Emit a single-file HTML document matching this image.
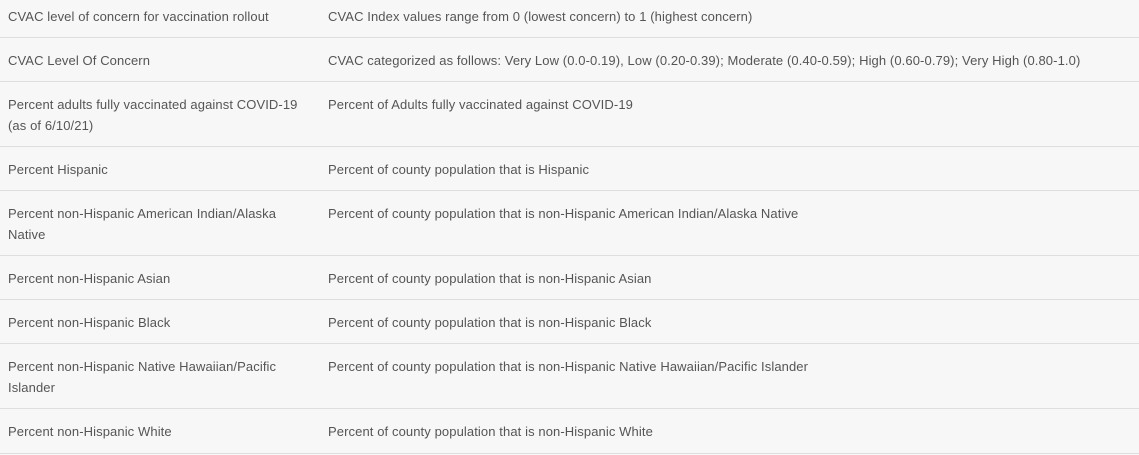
<!DOCTYPE html>
<html><head><meta charset="utf-8">
<style>
html,body{margin:0;padding:0;width:1139px;height:455px;overflow:hidden;background:#f7f7f7;}
body{font-family:"Liberation Sans",sans-serif;font-size:13px;color:#555;letter-spacing:0.1px;}
.row{position:absolute;left:0;width:1139px;border-bottom:1px solid #dedede;box-sizing:border-box;}
.c1{position:absolute;left:8px;top:12px;line-height:21px;width:310px;}
.c2{position:absolute;left:328px;top:12px;line-height:21px;white-space:nowrap;}
</style></head>
<body>
<div id="t"></div>
<script>
const names=["CVAC level of concern for vaccination rollout","CVAC Level Of Concern","Percent adults fully vaccinated against COVID-19<br>(as of 6/10/21)","Percent Hispanic","Percent non-Hispanic American Indian/Alaska<br>Native","Percent non-Hispanic Asian","Percent non-Hispanic Black","Percent non-Hispanic Native Hawaiian/Pacific<br>Islander","Percent non-Hispanic White"];
const descs=["CVAC Index values range from 0 (lowest concern) to 1 (highest concern)","CVAC categorized as follows: Very Low (0.0-0.19), Low (0.20-0.39); Moderate (0.40-0.59); High (0.60-0.79); Very High (0.80-1.0)","Percent of Adults fully vaccinated against COVID-19","Percent of county population that is Hispanic","Percent of county population that is non-Hispanic American Indian/Alaska Native","Percent of county population that is non-Hispanic Asian","Percent of county population that is non-Hispanic Black","Percent of county population that is non-Hispanic Native Hawaiian/Pacific Islander","Percent of county population that is non-Hispanic White"];
const bounds=[-6,38,82,147,191,256,300,344,409,454];
const t=document.getElementById('t');
for(let i=0;i<names.length;i++){
  const r=document.createElement('div');
  r.className='row';
  
  
  r.style.top=bounds[i]+'px';
  r.style.height=(bounds[i+1]-bounds[i])+'px';
  const a=document.createElement('div');
  a.className='c1';
  
  
  a.innerHTML=names[i];
  const b=document.createElement('div');
  b.className='c2';
  
  
  b.textContent=descs[i];
  r.appendChild(a);r.appendChild(b);t.appendChild(r);
}
</script>
</body></html>
